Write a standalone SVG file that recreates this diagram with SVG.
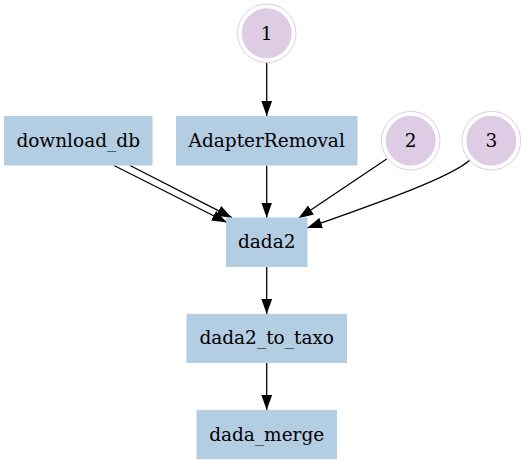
<svg xmlns="http://www.w3.org/2000/svg" width="528" height="464" viewBox="0 0 528 464">
<defs>
<style>
.box{fill:#b3cde3;stroke:#b3cde3;stroke-width:1}
.ring{fill:none;stroke:#decbe4;stroke-width:1}
.dot{fill:#decbe4;stroke:#decbe4;stroke-width:1}
text{font-family:"DejaVu Serif","Liberation Serif",serif;font-size:18.5px;fill:#000;text-anchor:middle}
.edge{fill:none;stroke:#000;stroke-width:1.3}
</style>
<marker id="arr" markerUnits="userSpaceOnUse" markerWidth="15" markerHeight="11" viewBox="0 0 14 10" refX="14" refY="5" orient="auto">
<path d="M0,0 L14,5 L0,10 z" fill="#000"/>
</marker>
</defs>
<g id="edges">
<path class="edge" d="M266.7,63 L266.7,116" marker-end="url(#arr)"/>
<path class="edge" d="M266.7,165.5 L266.7,217.7" marker-end="url(#arr)"/>
<path class="edge" d="M114,165.5 L227,222.5" marker-end="url(#arr)"/>
<path class="edge" d="M130,165.5 L232,217.7" marker-end="url(#arr)"/>
<path class="edge" d="M386.7,159 L298.5,218.3" marker-end="url(#arr)"/>
<path class="edge" d="M470,160 C450,178 375,204 307,228" marker-end="url(#arr)"/>
<path class="edge" d="M266.7,266.7 L266.7,314" marker-end="url(#arr)"/>
<path class="edge" d="M266.7,362.7 L266.7,410" marker-end="url(#arr)"/>
</g>
<g id="n1">
<circle class="ring" cx="266.7" cy="33.3" r="29.3"/>
<circle class="dot" cx="266.7" cy="33.3" r="24.5"/>
<text x="266.7" y="39.8">1</text>
</g>
<g id="n2">
<circle class="ring" cx="410.7" cy="140.7" r="29.3"/>
<circle class="dot" cx="410.7" cy="140.7" r="24.5"/>
<text x="410.7" y="147.2">2</text>
</g>
<g id="n3">
<circle class="ring" cx="491.3" cy="140.7" r="29.3"/>
<circle class="dot" cx="491.3" cy="140.7" r="24.5"/>
<text x="491.3" y="147.2">3</text>
</g>
<g id="download_db">
<rect class="box" x="4.5" y="116.5" width="147.5" height="48.5"/>
<text x="78.2" y="146.5">download_db</text>
</g>
<g id="AdapterRemoval">
<rect class="box" x="176.5" y="116.5" width="180.5" height="48.5"/>
<text x="266.7" y="146.5">AdapterRemoval</text>
</g>
<g id="dada2">
<rect class="box" x="226.5" y="218" width="80.5" height="48.5"/>
<text x="266.7" y="248">dada2</text>
</g>
<g id="dada2_to_taxo">
<rect class="box" x="187" y="314.3" width="159.5" height="48.2"/>
<text x="266.7" y="344.3">dada2_to_taxo</text>
</g>
<g id="dada_merge">
<rect class="box" x="197" y="410.3" width="139.5" height="48.5"/>
<text x="266.7" y="440.5">dada_merge</text>
</g>
</svg>
